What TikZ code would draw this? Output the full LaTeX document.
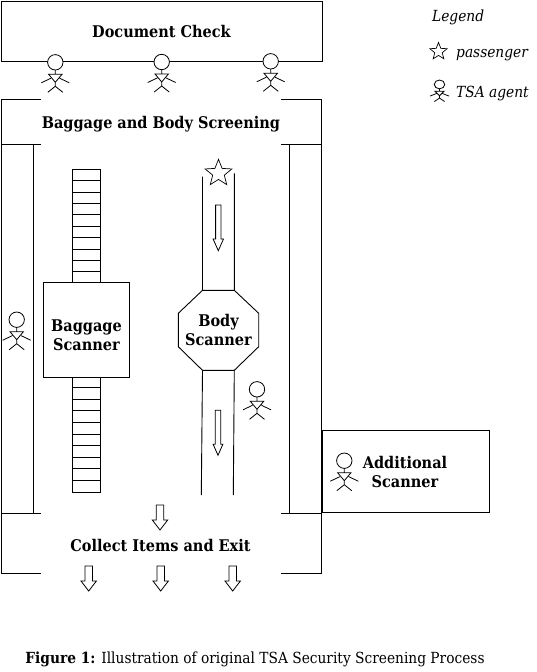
\documentclass[tikz,border=0pt]{standalone}
\usepackage{fontspec}
\setmainfont{DejaVu Serif Condensed}
\usetikzlibrary{positioning,shapes.geometric}
\tikzset{
	wall/.style={line width=0.9pt},
	label/.style={font=\bfseries\fontsize{16.1}{19}\selectfont,align=center,inner sep=0pt},
	legendtext/.style={font=\itshape\fontsize{15.3}{18}\selectfont,inner sep=0pt,anchor=west},
	passenger/.style={draw,fill=white,star,star points=5,star point ratio=2.3,inner sep=0pt,line width=0.7pt},
	pics/agent/.style={code={
		\draw[line width=0.8pt,fill=white] (0,0) circle (7.7);
		\draw[line width=0.8pt] (0,7.7) -- (0,12) (-6.7,12) -- (6.7,12) -- (0,20) -- cycle
		(0,20) -- (0,24) (0,24) -- (-7.5,30) (0,24) -- (7.5,30)
		(-4.5,16) -- (-14,20.5) (4.5,16) -- (14,20.5);
	}},
	pics/downarrow/.style n args={4}{code={
		\draw[line width=0.8pt,fill=white] (-#1,0) -- (-#1,#3) -- (-#2,#3) -- (0,#4) -- (#2,#3) -- (#1,#3) -- (#1,0) -- cycle;
	}}
}
\begin{document}
\begin{tikzpicture}[x=1pt,y=-1pt]
	\useasboundingbox (0,0) rectangle (536,672);
	% rooms
	\node[draw,wall,minimum width=320.4pt,minimum height=60pt,anchor=north west,inner sep=0pt] (check) at (1.3,1.3) {};
	\node[label] (checklabel) at (161.5,31) {Document Check};
	\node[draw,wall,minimum width=167.8pt,minimum height=82pt,anchor=north west,inner sep=0pt] (extra) at (321.5,430.3) {};
	\node[label] (extralabel) at (405,471.5) {Additional\\Scanner};
	\coordinate (tl) at (1.3,99);
	\coordinate (tr) at (321.7,99);
	\coordinate (ml) at (1.3,144.5);
	\coordinate (mr) at (321.7,144.5);
	\coordinate (ll) at (1.3,513.3);
	\coordinate (lr) at (321.7,513.3);
	\coordinate (bl) at (1.3,573);
	\coordinate (br) at (321.7,573);
	\draw[wall] (41,99) -- (tl) -- (ml) -- (41,144.5)
	(281,99) -- (tr) -- (mr) -- (281,144.5)
	(ml) -- (ll) -- (bl) -- (41,573)
	(mr) -- (lr) -- (br) -- (281,573)
	(ll) -- (41,513.3) (lr) -- (281,513.3)
	(33.5,144.5) -- (33.5,513.3) (289.5,144.5) -- (289.5,513.3);
	\node[label] (screenlabel) at (161,124.5) {Baggage and Body Screening};
	\node[label] (collectlabel) at (160.5,545.5) {Collect Items and Exit};
	% baggage belt
	\draw[wall] (72.5,169.5) rectangle (100.5,492.3);
	\foreach \y in {1,...,9}
		\draw[wall] (72.5,169.5+11.36*\y) -- (100.5,169.5+11.36*\y);
	\foreach \y in {0,...,8}
		\draw[wall] (72.5,387.7+11.6*\y) -- (100.5,387.7+11.6*\y);
	\node[draw,wall,fill=white,minimum width=86pt,minimum height=95pt,inner sep=0pt,anchor=north west] (bag) at (43.3,282.3) {};
	\node[label] (baglabel) at (86.5,335.5) {Baggage\\Scanner};
	% body scanner
	\draw[wall] (202.5,176.7) -- (202.5,290.3) (234.3,173.3) -- (234.3,290.3)
	(202.5,370.3) -- (201.3,495) (234.3,370.3) -- (233.3,495);
	\draw[wall,fill=white] (202.5,290.3) -- (234.3,290.3) -- (258.7,313.3) -- (258.7,346.7) -- (234.3,370.3) -- (202.5,370.3) -- (178.3,346.7) -- (178.3,313.3) -- cycle;
	\node[label] (bodylabel) at (218.5,330) {Body\\Scanner};
	\node[passenger,minimum size=28pt] (pass) at (218.5,173.3) {};
	% arrows
	\pic at (218.3,205) {downarrow={2.7}{5.2}{34}{45.7}};
	\pic at (218,410.3) {downarrow={2.7}{4.85}{34}{45}};
	\pic at (160,505) {downarrow={3.7}{7.7}{15}{25}};
	\foreach \x in {88.7,160.7,232.7}
		\pic at (\x,566) {downarrow={3.7}{7.7}{15}{25}};
	% agents
	\pic at (55.3,62.3) {agent};
	\pic at (161.7,62) {agent};
	\pic at (270.7,61.3) {agent};
	\pic at (16.7,319.7) {agent};
	\pic at (257,389.3) {agent};
	\pic at (344.3,460.7) {agent};
	% legend
	\node[legendtext] (legendtitle) at (432,17) {Legend};
	\node[passenger,minimum size=18pt] (legendstar) at (438.5,51.5) {};
	\node[legendtext] (legendpass) at (456,55.5) {passenger};
	\pic[xscale=0.68,yscale=0.57] at (439.5,84.4) {agent};
	\node[legendtext] (legendagent) at (456,93.5) {TSA agent};
	% caption
	\node[inner sep=0pt,font=\fontsize{15.3}{18}\selectfont] (caption) at (255,659) {\textbf{Figure 1:} Illustration of original TSA Security Screening Process};
\end{tikzpicture}
\end{document}
